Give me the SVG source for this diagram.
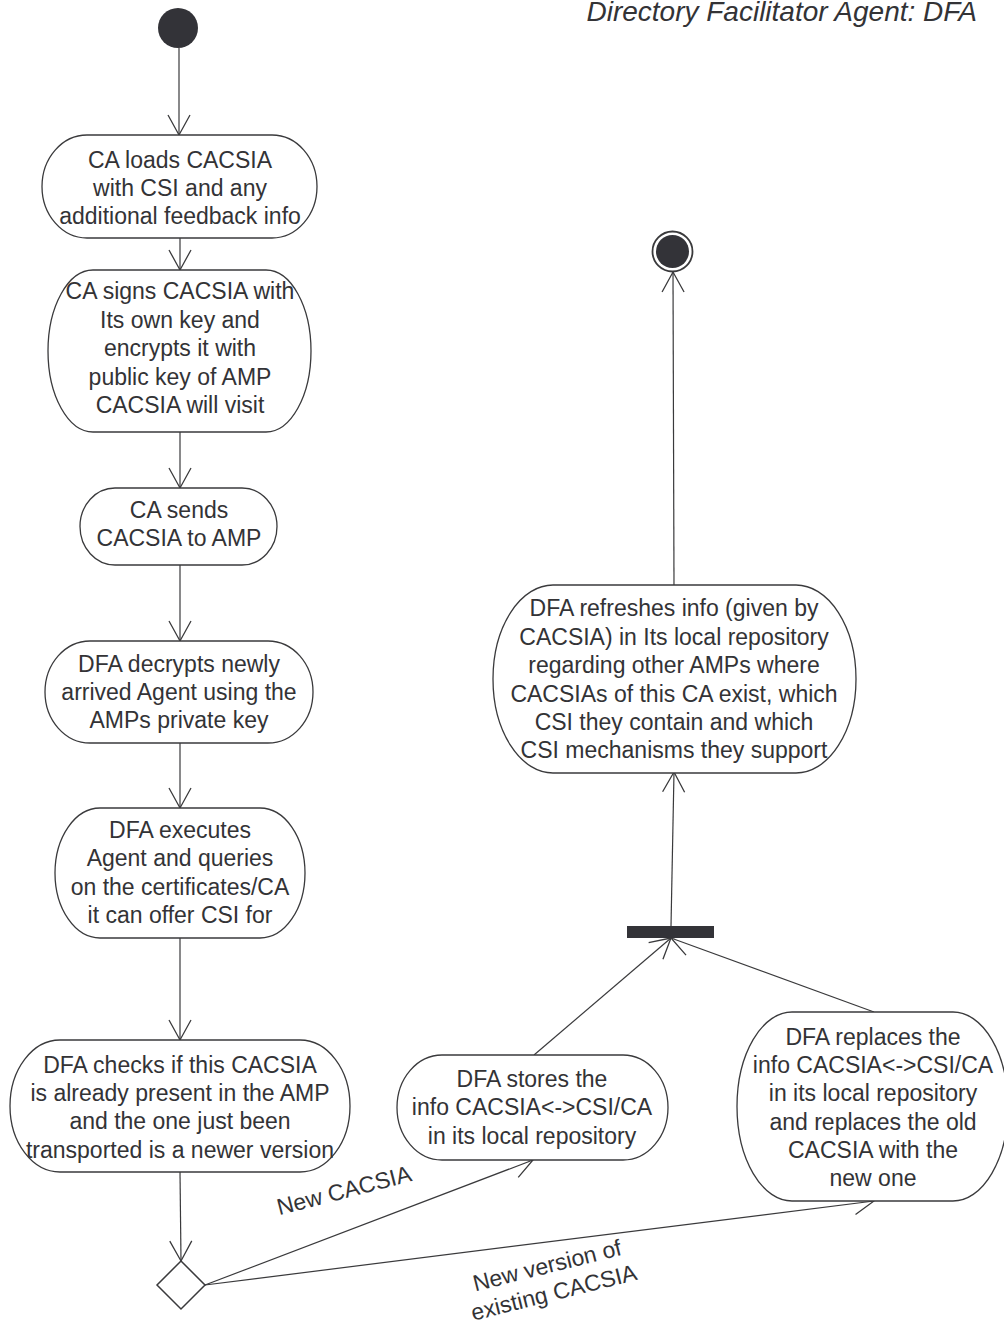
<svg xmlns="http://www.w3.org/2000/svg" width="1004" height="1324" viewBox="0 0 1004 1324">
  <style>
    .act { fill: #ffffff; stroke: #3a3a3c; stroke-width: 1.3; }
    .lbl { font-family: "Liberation Sans", Arial, sans-serif; font-size: 23px; fill: #333336; text-anchor: middle; }
    .edge { fill: none; stroke: #3a3a3c; stroke-width: 1.2; marker-end: url(#arrow); }
    .solid { fill: #333338; }
  </style>
  <defs>
    <marker id="arrow" markerUnits="userSpaceOnUse" markerWidth="24" markerHeight="24" refX="20" refY="11" orient="auto" overflow="visible">
      <path d="M0,0 L20,11 L0,22" fill="none" stroke="#3a3a3c" stroke-width="1.3"/>
    </marker>
  </defs>

  <rect width="1004" height="1324" fill="#ffffff"/>

  <!-- swimlane title -->
  <text x="977" y="21" font-family="'Liberation Sans', Arial, sans-serif" font-size="28" font-style="italic" fill="#333336" text-anchor="end">Directory Facilitator Agent: DFA</text>

  <!-- connectors -->
  <g id="connectors">
    <line class="edge" x1="179" y1="48" x2="179" y2="135"/>
    <line class="edge" x1="180" y1="238" x2="180" y2="270"/>
    <line class="edge" x1="180" y1="432" x2="180" y2="488"/>
    <line class="edge" x1="180" y1="565" x2="180" y2="641"/>
    <line class="edge" x1="180" y1="743" x2="180" y2="808"/>
    <line class="edge" x1="180" y1="938" x2="180" y2="1040"/>
    <line class="edge" x1="180" y1="1172" x2="181" y2="1261"/>
    <line class="edge" x1="205" y1="1285" x2="533" y2="1160"/>
    <line class="edge" x1="205" y1="1285" x2="874" y2="1201"/>
    <line class="edge" x1="534" y1="1055" x2="671" y2="938"/>
    <line class="edge" x1="874" y1="1012" x2="671" y2="938"/>
    <line class="edge" x1="671" y1="926" x2="674" y2="772"/>
    <line class="edge" x1="674" y1="585" x2="673" y2="272"/>
    <text class="lbl" x="346" y="1198" transform="rotate(-14.5 346 1198)">New CACSIA</text>
    <g transform="rotate(-14 549 1273)">
      <text class="lbl" x="549" y="1273">New version of</text>
      <text class="lbl" x="549" y="1301">existing CACSIA</text>
    </g>
  </g>

  <!-- initial state -->
  <g id="start">
    <circle class="solid" cx="178" cy="28" r="20"/>
  </g>

  <g id="load">
    <rect class="act" x="42" y="135" width="275" height="103" rx="45" ry="51.5"/>
    <text class="lbl" x="180" y="168">CA loads CACSIA</text>
    <text class="lbl" x="180" y="196">with CSI and any</text>
    <text class="lbl" x="180" y="223.5">additional feedback info</text>
  </g>

  <g id="sign">
    <rect class="act" x="48" y="270" width="263" height="162" rx="45" ry="81"/>
    <text class="lbl" x="180" y="299">CA signs CACSIA with</text>
    <text class="lbl" x="180" y="327.5">Its own key and</text>
    <text class="lbl" x="180" y="356">encrypts it with</text>
    <text class="lbl" x="180" y="384.5">public key of AMP</text>
    <text class="lbl" x="180" y="413">CACSIA will visit</text>
  </g>

  <g id="send">
    <rect class="act" x="80" y="488" width="197" height="77" rx="35" ry="38.5"/>
    <text class="lbl" x="179" y="518">CA sends</text>
    <text class="lbl" x="179" y="546">CACSIA to AMP</text>
  </g>

  <g id="decrypt">
    <rect class="act" x="45" y="641" width="268" height="102" rx="45" ry="51"/>
    <text class="lbl" x="179" y="671.5">DFA decrypts newly</text>
    <text class="lbl" x="179" y="699.5">arrived Agent using the</text>
    <text class="lbl" x="179" y="728">AMPs private key</text>
  </g>

  <g id="execute">
    <rect class="act" x="55" y="808" width="250" height="130" rx="45" ry="65"/>
    <text class="lbl" x="180" y="837.5">DFA executes</text>
    <text class="lbl" x="180" y="866">Agent and queries</text>
    <text class="lbl" x="180" y="894.5">on the certificates/CA</text>
    <text class="lbl" x="180" y="923">it can offer CSI for</text>
  </g>

  <g id="check">
    <rect class="act" x="10" y="1040" width="340" height="132" rx="50" ry="66"/>
    <text class="lbl" x="180" y="1072.5">DFA checks if this CACSIA</text>
    <text class="lbl" x="180" y="1101">is already present in the AMP</text>
    <text class="lbl" x="180" y="1129">and the one just been</text>
    <text class="lbl" x="180" y="1157.5">transported is a newer version</text>
  </g>

  <!-- decision -->
  <g id="decision">
    <polygon points="181,1261 205,1285 181,1309 157,1285" fill="#ffffff" stroke="#3a3a3c" stroke-width="1.5"/>
  </g>

  <g id="store">
    <rect class="act" x="397" y="1055" width="271" height="105" rx="45" ry="52.5"/>
    <text class="lbl" x="532" y="1086.5">DFA stores the</text>
    <text class="lbl" x="532" y="1115">info CACSIA&lt;-&gt;CSI/CA</text>
    <text class="lbl" x="532" y="1143.5">in its local repository</text>
  </g>

  <g id="replace">
    <rect class="act" x="737" y="1012" width="271" height="189" rx="55" ry="94.5"/>
    <text class="lbl" x="873" y="1044.5">DFA replaces the</text>
    <text class="lbl" x="873" y="1073">info CACSIA&lt;-&gt;CSI/CA</text>
    <text class="lbl" x="873" y="1101">in its local repository</text>
    <text class="lbl" x="873" y="1129.5">and replaces the old</text>
    <text class="lbl" x="873" y="1158">CACSIA with the</text>
    <text class="lbl" x="873" y="1186">new one</text>
  </g>

  <!-- join bar -->
  <g id="join">
    <rect class="solid" x="627" y="926" width="87" height="12"/>
  </g>

  <g id="refresh">
    <rect class="act" x="493" y="585" width="363" height="188" rx="60" ry="94"/>
    <text class="lbl" x="674" y="616">DFA refreshes info (given by</text>
    <text class="lbl" x="674" y="644.5">CACSIA) in Its local repository</text>
    <text class="lbl" x="674" y="673">regarding other AMPs where</text>
    <text class="lbl" x="674" y="701.5">CACSIAs of this CA exist, which</text>
    <text class="lbl" x="674" y="730">CSI they contain and which</text>
    <text class="lbl" x="674" y="758">CSI mechanisms they support</text>
  </g>

  <!-- final state -->
  <g id="end">
    <circle cx="672.5" cy="251.5" r="20" fill="#ffffff" stroke="#3a3a3c" stroke-width="1.8"/>
    <circle class="solid" cx="672.5" cy="251.5" r="16.5"/>
  </g>
</svg>
